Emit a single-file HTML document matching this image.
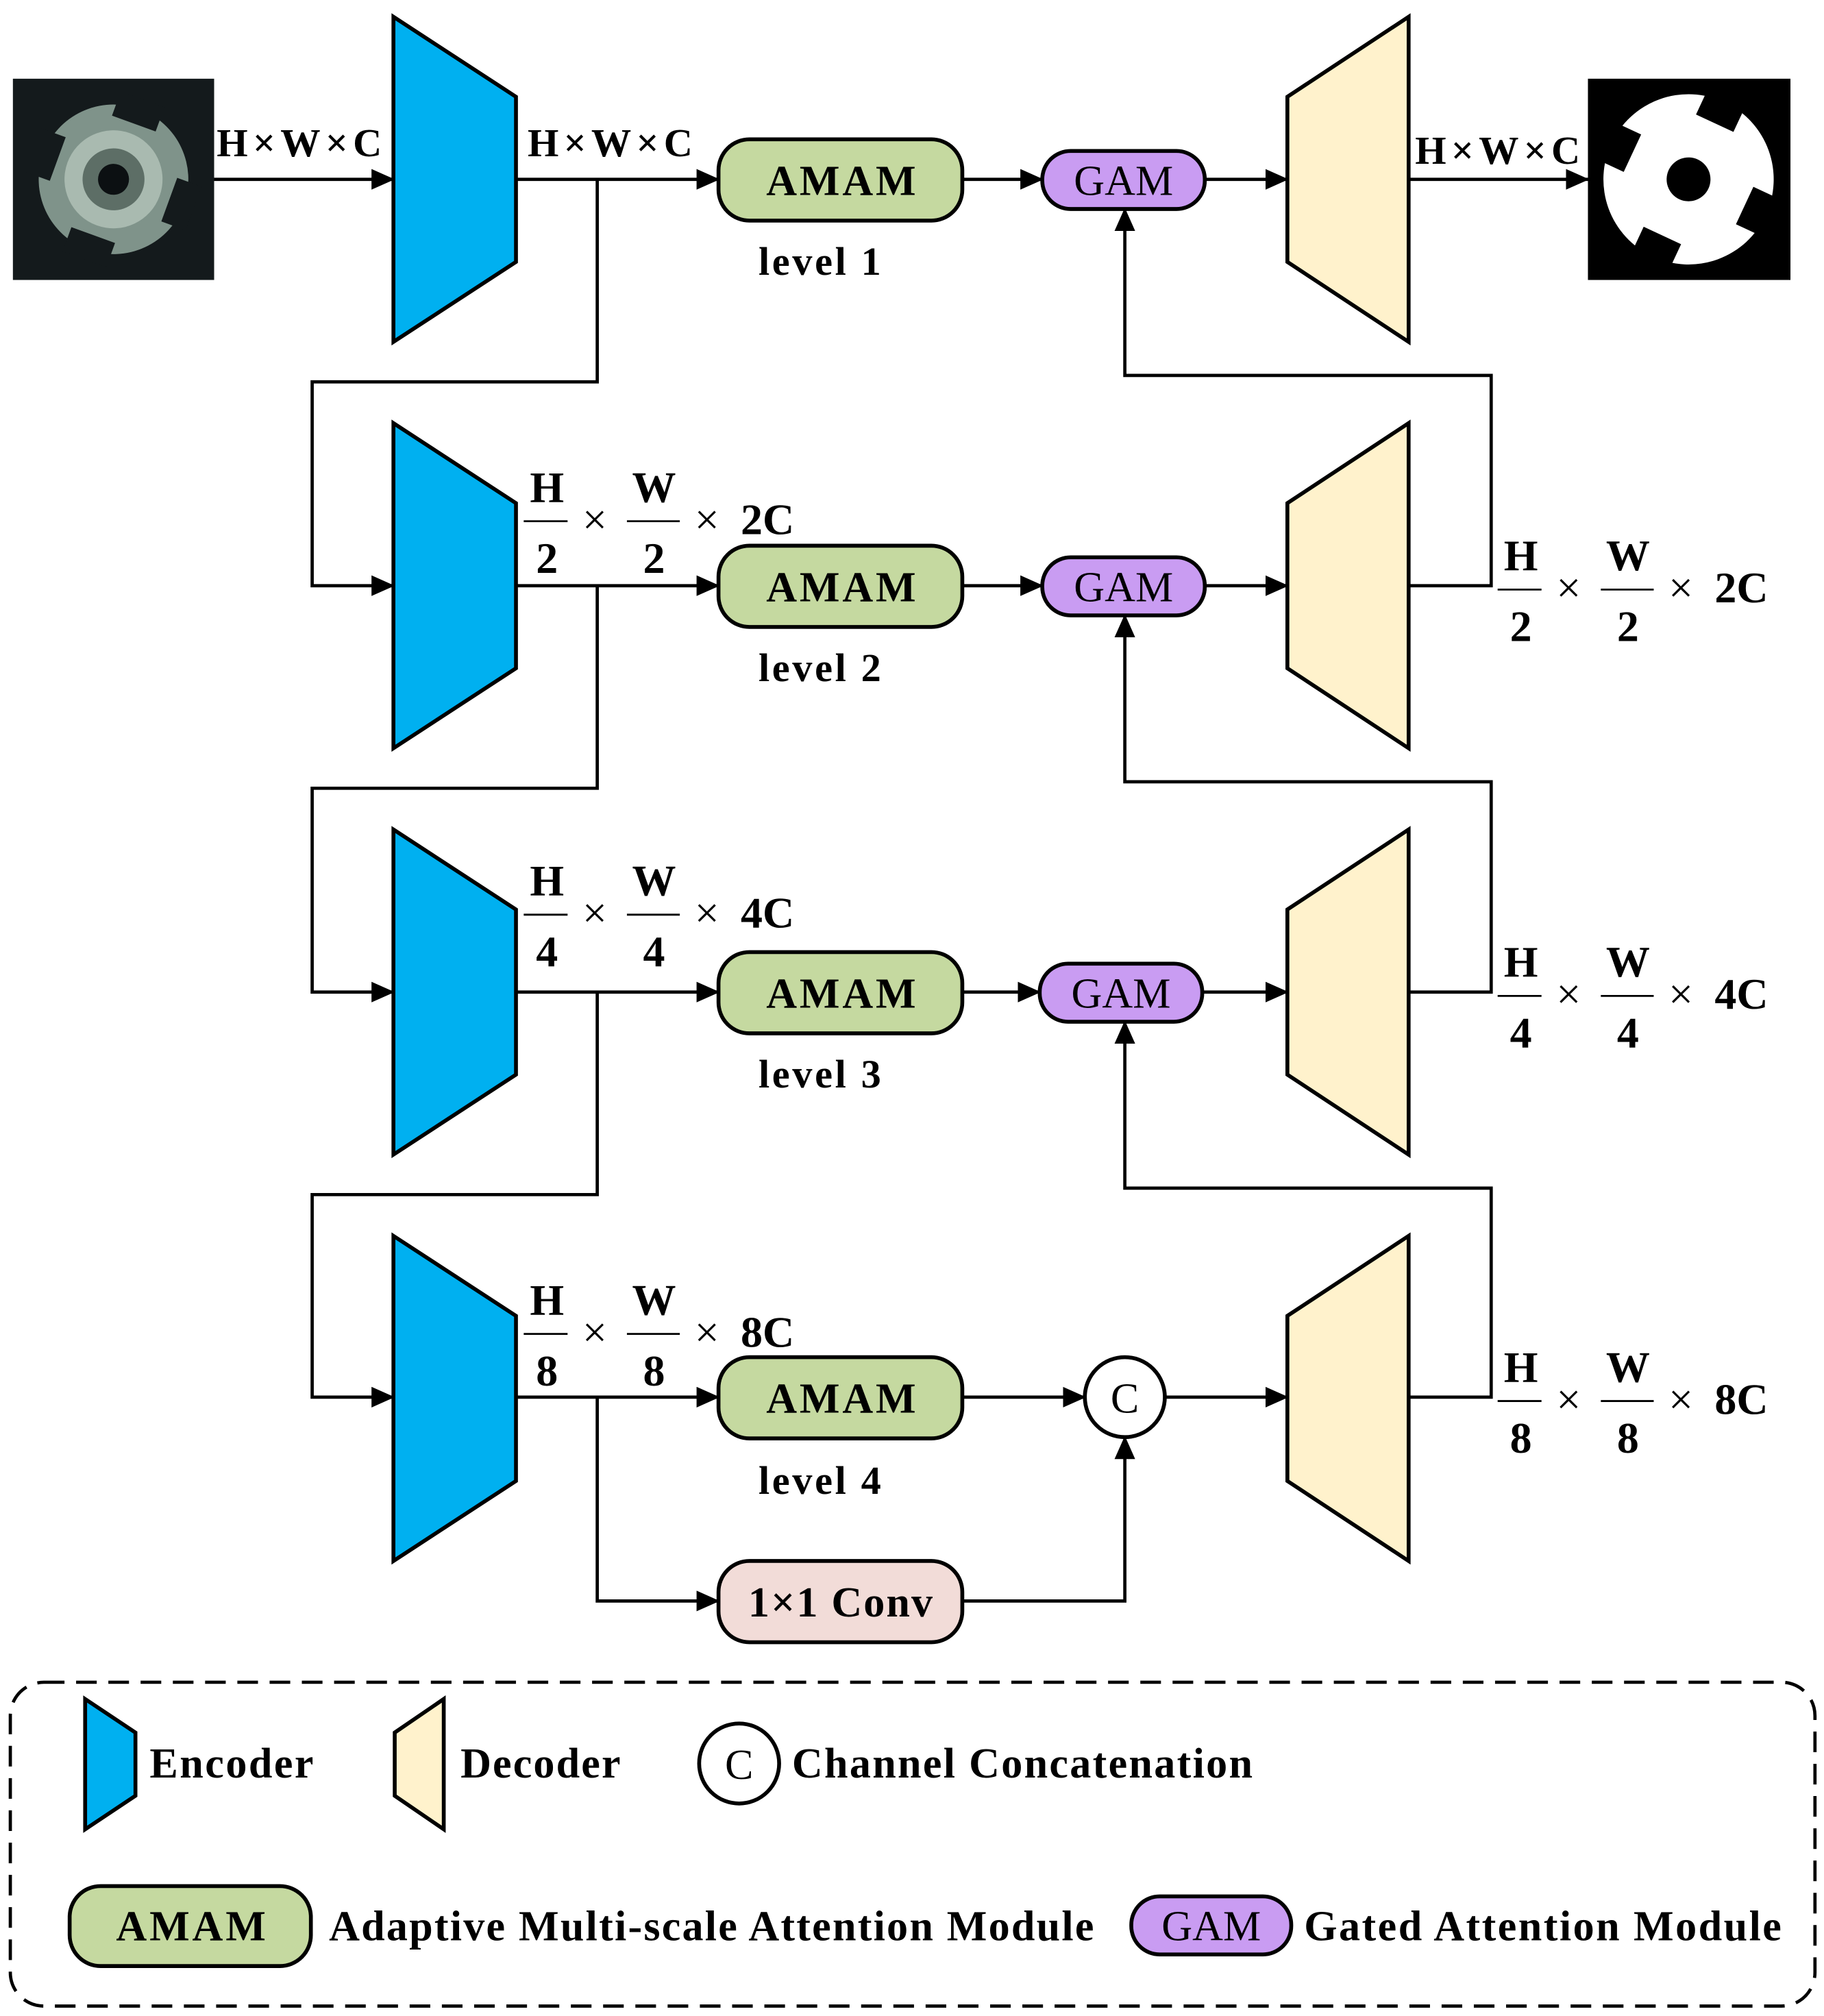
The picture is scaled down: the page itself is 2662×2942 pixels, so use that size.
<!DOCTYPE html>
<html><head><meta charset="utf-8"><style>
html,body{margin:0;padding:0;background:#fff}
svg{display:block}
text{font-family:"Liberation Serif",serif;font-weight:bold;fill:#000}
</style></head><body>
<svg width="2662" height="2942" viewBox="0 0 1414 1562.7" xmlns="http://www.w3.org/2000/svg">
<defs>
<marker id="b" markerWidth="18" markerHeight="16" refX="17" refY="8" orient="auto" markerUnits="userSpaceOnUse" viewBox="0 0 18 16">
<path d="M0,0 L18,8 L0,16 z" fill="#000"/></marker>
<g id="enc"><polygon points="305,13 400,75 400,203 305,265" fill="#00b0f0" stroke="#000" stroke-width="3"/></g>
<g id="dec"><polygon points="998,75 1092,13 1092,265 998,203" fill="#fff2cc" stroke="#000" stroke-width="3"/></g>
</defs>
<use href="#enc"/><use href="#enc" y="315"/><use href="#enc" y="630"/><use href="#enc" y="945"/>
<use href="#dec"/><use href="#dec" y="315"/><use href="#dec" y="630"/><use href="#dec" y="945"/>

<rect x="10" y="61" width="156" height="156" fill="#141a1c"/>
<g transform="translate(88,139) rotate(20)">
<circle r="58" fill="#7f938a"/>
<rect x="-18" y="-66" width="36" height="20" fill="#141a1c"/>
<rect x="-18" y="-66" width="36" height="20" fill="#141a1c" transform="rotate(90)"/>
<rect x="-18" y="-66" width="36" height="20" fill="#141a1c" transform="rotate(180)"/>
<rect x="-18" y="-66" width="36" height="20" fill="#141a1c" transform="rotate(270)"/>
<circle r="38" fill="#a9bab0"/><circle r="24" fill="#5d6e66"/><circle r="12" fill="#0c1012"/>
</g>
<rect x="1231" y="61" width="157" height="156" fill="#000"/>
<g transform="translate(1309,139) rotate(25)">
<circle r="66" fill="#fff"/>
<rect x="-16" y="-70" width="32" height="22" fill="#000"/>
<rect x="-16" y="-70" width="32" height="22" fill="#000" transform="rotate(90)"/>
<rect x="-16" y="-70" width="32" height="22" fill="#000" transform="rotate(180)"/>
<rect x="-16" y="-70" width="32" height="22" fill="#000" transform="rotate(270)"/>
<circle r="17" fill="#000"/>
</g>

<g stroke="#000" stroke-width="2.5" fill="none">
<line x1="166" y1="139" x2="305" y2="139" marker-end="url(#b)"/>
<line x1="1092" y1="139" x2="1231" y2="139" marker-end="url(#b)"/>
<line x1="400" y1="139" x2="557" y2="139" marker-end="url(#b)"/>
<line x1="400" y1="454" x2="557" y2="454" marker-end="url(#b)"/>
<line x1="400" y1="769" x2="557" y2="769" marker-end="url(#b)"/>
<line x1="400" y1="1083" x2="557" y2="1083" marker-end="url(#b)"/>
<polyline points="463,139 463,296 242,296 242,454 305,454" marker-end="url(#b)"/>
<polyline points="463,454 463,611 242,611 242,769 305,769" marker-end="url(#b)"/>
<polyline points="463,769 463,926 242,926 242,1083 305,1083" marker-end="url(#b)"/>
<polyline points="463,1083 463,1241 557,1241" marker-end="url(#b)"/>
<line x1="746" y1="139" x2="808" y2="139" marker-end="url(#b)"/>
<line x1="746" y1="454" x2="808" y2="454" marker-end="url(#b)"/>
<line x1="746" y1="769" x2="806" y2="769" marker-end="url(#b)"/>
<line x1="746" y1="1083" x2="841" y2="1083" marker-end="url(#b)"/>
<line x1="934" y1="139" x2="998" y2="139" marker-end="url(#b)"/>
<line x1="934" y1="454" x2="998" y2="454" marker-end="url(#b)"/>
<line x1="932" y1="769" x2="998" y2="769" marker-end="url(#b)"/>
<line x1="903" y1="1083" x2="998" y2="1083" marker-end="url(#b)"/>
<polyline points="1092,454 1156,454 1156,291 872,291 872,162" marker-end="url(#b)"/>
<polyline points="1092,769 1156,769 1156,606 872,606 872,477" marker-end="url(#b)"/>
<polyline points="1092,1083 1156,1083 1156,921 872,921 872,792" marker-end="url(#b)"/>
<polyline points="746,1241 872,1241 872,1114" marker-end="url(#b)"/>
</g>

<g stroke="#000" stroke-width="3">
<rect x="557" y="108" width="189" height="63" rx="24" fill="#c5d9a0"/>
<rect x="557" y="423" width="189" height="63" rx="24" fill="#c5d9a0"/>
<rect x="557" y="738" width="189" height="63" rx="24" fill="#c5d9a0"/>
<rect x="557" y="1052" width="189" height="63" rx="24" fill="#c5d9a0"/>
<rect x="557" y="1210" width="189" height="63" rx="24" fill="#f2dcd8"/>
<rect x="808" y="117" width="126" height="45" rx="22" fill="#c99cf2"/>
<rect x="808" y="432" width="126" height="45" rx="22" fill="#c99cf2"/>
<rect x="806" y="747" width="126" height="45" rx="22" fill="#c99cf2"/>
<circle cx="872" cy="1083" r="31" fill="#fff"/>
</g>
<g font-size="33">
<text x="594" y="151" textLength="116">AMAM</text><text x="594" y="466" textLength="116">AMAM</text>
<text x="594" y="781" textLength="116">AMAM</text><text x="594" y="1095" textLength="116">AMAM</text>
<text x="580" y="1253" textLength="143">1×1 Conv</text>
<text x="588" y="213" font-size="31" textLength="95">level 1</text><text x="588" y="528" font-size="31" textLength="95">level 2</text>
<text x="588" y="843" font-size="31" textLength="95">level 3</text><text x="588" y="1158" font-size="31" textLength="95">level 4</text>
</g>
<g font-size="33" text-anchor="middle">
<text x="871" y="151" style="font-weight:normal">GAM</text><text x="871" y="466" style="font-weight:normal">GAM</text>
<text x="869" y="781" style="font-weight:normal">GAM</text><text x="872" y="1095" style="font-weight:normal">C</text>
</g>
<g font-size="31">
<text x="168" y="121" textLength="128">H×W×C</text><text x="409" y="121" textLength="128">H×W×C</text><text x="1097" y="127" textLength="128">H×W×C</text>
</g>
<g font-size="34" text-anchor="middle">
<text x="424" y="389">H</text><text x="424" y="444">2</text>
<text x="507" y="389">W</text><text x="507" y="444">2</text>
<text x="461" y="414" style="font-weight:normal">×</text><text x="548" y="414" style="font-weight:normal">×</text>
<text x="595" y="414">2C</text>
<text x="424" y="694">H</text><text x="424" y="749">4</text>
<text x="507" y="694">W</text><text x="507" y="749">4</text>
<text x="461" y="719" style="font-weight:normal">×</text><text x="548" y="719" style="font-weight:normal">×</text>
<text x="595" y="719">4C</text>
<text x="424" y="1019">H</text><text x="424" y="1074">8</text>
<text x="507" y="1019">W</text><text x="507" y="1074">8</text>
<text x="461" y="1044" style="font-weight:normal">×</text><text x="548" y="1044" style="font-weight:normal">×</text>
<text x="595" y="1044">8C</text>
<text x="1179" y="442">H</text><text x="1179" y="497">2</text>
<text x="1262" y="442">W</text><text x="1262" y="497">2</text>
<text x="1216" y="467" style="font-weight:normal">×</text><text x="1303" y="467" style="font-weight:normal">×</text>
<text x="1350" y="467">2C</text>
<text x="1179" y="757">H</text><text x="1179" y="812">4</text>
<text x="1262" y="757">W</text><text x="1262" y="812">4</text>
<text x="1216" y="782" style="font-weight:normal">×</text><text x="1303" y="782" style="font-weight:normal">×</text>
<text x="1350" y="782">4C</text>
<text x="1179" y="1071">H</text><text x="1179" y="1126">8</text>
<text x="1262" y="1071">W</text><text x="1262" y="1126">8</text>
<text x="1216" y="1096" style="font-weight:normal">×</text><text x="1303" y="1096" style="font-weight:normal">×</text>
<text x="1350" y="1096">8C</text>
</g>
<g stroke="#000" stroke-width="1.5">
<line x1="406" y1="404" x2="440" y2="404"/><line x1="486" y1="404" x2="527" y2="404"/>
<line x1="406" y1="709" x2="440" y2="709"/><line x1="486" y1="709" x2="527" y2="709"/>
<line x1="406" y1="1034" x2="440" y2="1034"/><line x1="486" y1="1034" x2="527" y2="1034"/>
<line x1="1161" y1="457" x2="1195" y2="457"/><line x1="1241" y1="457" x2="1282" y2="457"/>
<line x1="1161" y1="772" x2="1195" y2="772"/><line x1="1241" y1="772" x2="1282" y2="772"/>
<line x1="1161" y1="1086" x2="1195" y2="1086"/><line x1="1241" y1="1086" x2="1282" y2="1086"/>
</g>

<rect x="8" y="1304" width="1399" height="251" rx="26" fill="none" stroke="#000" stroke-width="2.5" stroke-dasharray="16,9"/>
<polygon points="66,1317 105,1343 105,1392 66,1418" fill="#00b0f0" stroke="#000" stroke-width="3"/>
<polygon points="306,1343 344,1317 344,1418 306,1392" fill="#fff2cc" stroke="#000" stroke-width="3"/>
<circle cx="573" cy="1367" r="31" fill="#fff" stroke="#000" stroke-width="3"/>
<rect x="54" y="1462" width="187" height="62" rx="24" fill="#c5d9a0" stroke="#000" stroke-width="3"/>
<rect x="877" y="1470" width="124" height="45" rx="22" fill="#c99cf2" stroke="#000" stroke-width="3"/>
<g font-size="33">
<text x="116" y="1378" textLength="127">Encoder</text>
<text x="357" y="1378" textLength="124">Decoder</text>
<text x="573" y="1379" text-anchor="middle" style="font-weight:normal">C</text>
<text x="614" y="1378" textLength="357">Channel Concatenation</text>
<text x="90" y="1504" textLength="116">AMAM</text>
<text x="255" y="1504" textLength="593">Adaptive Multi-scale Attention Module</text>
<text x="939" y="1504" text-anchor="middle" style="font-weight:normal">GAM</text>
<text x="1011" y="1504" textLength="370">Gated Attention Module</text>
</g>
</svg>
</body></html>
